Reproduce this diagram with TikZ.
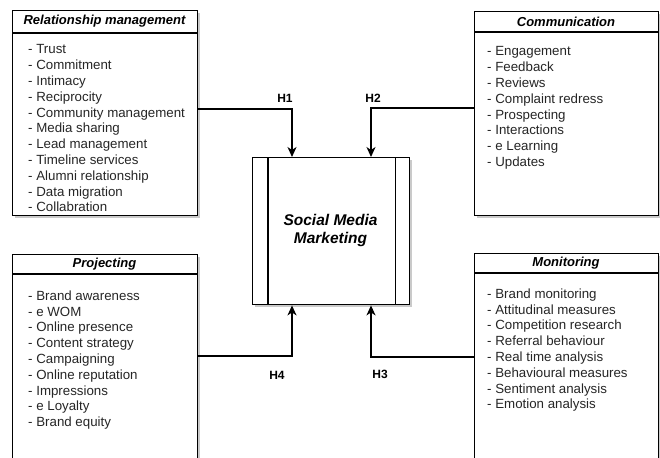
\documentclass[tikz,border=0pt]{standalone}
\usepackage{fontspec}
\setmainfont{Liberation Sans}
\usetikzlibrary{arrows.meta,shadows,calc}
\begin{document}
\begin{tikzpicture}[x=1pt,y=-1pt]
\tikzset{
 panel/.style={draw=black, line width=1.4pt, fill=white, drop shadow={shadow xshift=2.5pt, shadow yshift=-2.5pt, fill=black!35, opacity=0.6}, anchor=north west, inner sep=0, minimum width=185},
 sep/.style={draw=black, line width=1.4pt},
 headtxt/.style={font=\fontsize{13}{15}\selectfont\bfseries\itshape, inner sep=0},
 itemtxt/.style={font=\fontsize{13.3}{15.8}\selectfont, align=left, anchor=north west, inner sep=0, text=black!85},
 conn/.style={line width=1.6pt, -{Stealth[length=10pt,width=9pt,inset=3pt]}},
 hlab/.style={font=\fontsize{12}{14}\selectfont\bfseries, inner sep=0}
}
\useasboundingbox (0,0) rectangle (660,457);
\clip (0,0) rectangle (660,457);
% panels
\node[panel, minimum height=205] (rm) at (12,10) {};
\node[panel, minimum height=204, minimum width=184] (cm) at (474,11) {};
\node[panel, minimum height=220] (pj) at (12,254) {};
\node[panel, minimum height=220, minimum width=184] (mo) at (474,253) {};
\draw[sep] ($(rm.north west)+(0,23)$) -- ($(rm.north east)+(0,23)$);
\draw[sep] ($(cm.north west)+(0,21)$) -- ($(cm.north east)+(0,21)$);
\draw[sep] ($(pj.north west)+(0,20)$) -- ($(pj.north east)+(0,20)$);
\draw[sep] ($(mo.north west)+(0,20)$) -- ($(mo.north east)+(0,20)$);
% headers
\node[headtxt] (rmh) at (104.5,21.5) {Relationship management};
\node[headtxt] (cmh) at (566,21.5) {Communication};
\node[headtxt] (pjh) at (104.5,264.5) {Projecting};
\node[headtxt] (moh) at (566,263.5) {Monitoring};
% items
\node[itemtxt] (rmi) at (28,44.5) {- Trust\\- Commitment\\- Intimacy\\- Reciprocity\\- Community management\\- Media sharing\\- Lead management\\- Timeline services\\- Alumni relationship\\- Data migration\\- Collabration};
\node[itemtxt] (cmi) at (487,46.5) {- Engagement\\- Feedback\\- Reviews\\- Complaint redress\\- Prospecting\\- Interactions\\- e Learning\\- Updates};
\node[itemtxt] (pji) at (28,290.5) {- Brand awareness\\- e WOM\\- Online presence\\- Content strategy\\- Campaigning\\- Online reputation\\- Impressions\\- e Loyalty\\- Brand equity};
\node[itemtxt] (moi) at (487,288.5) {- Brand monitoring\\- Attitudinal measures\\- Competition research\\- Referral behaviour\\- Real time analysis\\- Behavioural measures\\- Sentiment analysis\\- Emotion analysis};
% central
\node[panel, minimum width=157, minimum height=147] (smm) at (252,157) {};
\draw[sep] ($(smm.north west)+(16,0)$) -- ($(smm.south west)+(16,0)$);
\draw[sep] ($(smm.north east)+(-15,0)$) -- ($(smm.south east)+(-15,0)$);
\node[font=\fontsize{15.5}{18}\selectfont\bfseries\itshape, align=center] (smmt) at (330.5,230) {Social Media\\Marketing};
% connectors
\coordinate (h1y) at (0,109);
\coordinate (h2y) at (0,108);
\coordinate (h3y) at (0,357);
\coordinate (h4y) at (0,356);
\coordinate (lx) at (292,0);
\coordinate (rx) at (371,0);
\draw[conn] (rm.east |- h1y) -| (smm.north -| lx);
\draw[conn] (cm.west |- h2y) -| (smm.north -| rx);
\draw[conn] (mo.west |- h3y) -| (smm.south -| rx);
\draw[conn] (pj.east |- h4y) -| (smm.south -| lx);
% labels
\node[hlab] (l1) at (285,98) {H1};
\node[hlab] (l2) at (373,98) {H2};
\node[hlab] (l3) at (380,374) {H3};
\node[hlab] (l4) at (277,375) {H4};
\end{tikzpicture}
\end{document}
